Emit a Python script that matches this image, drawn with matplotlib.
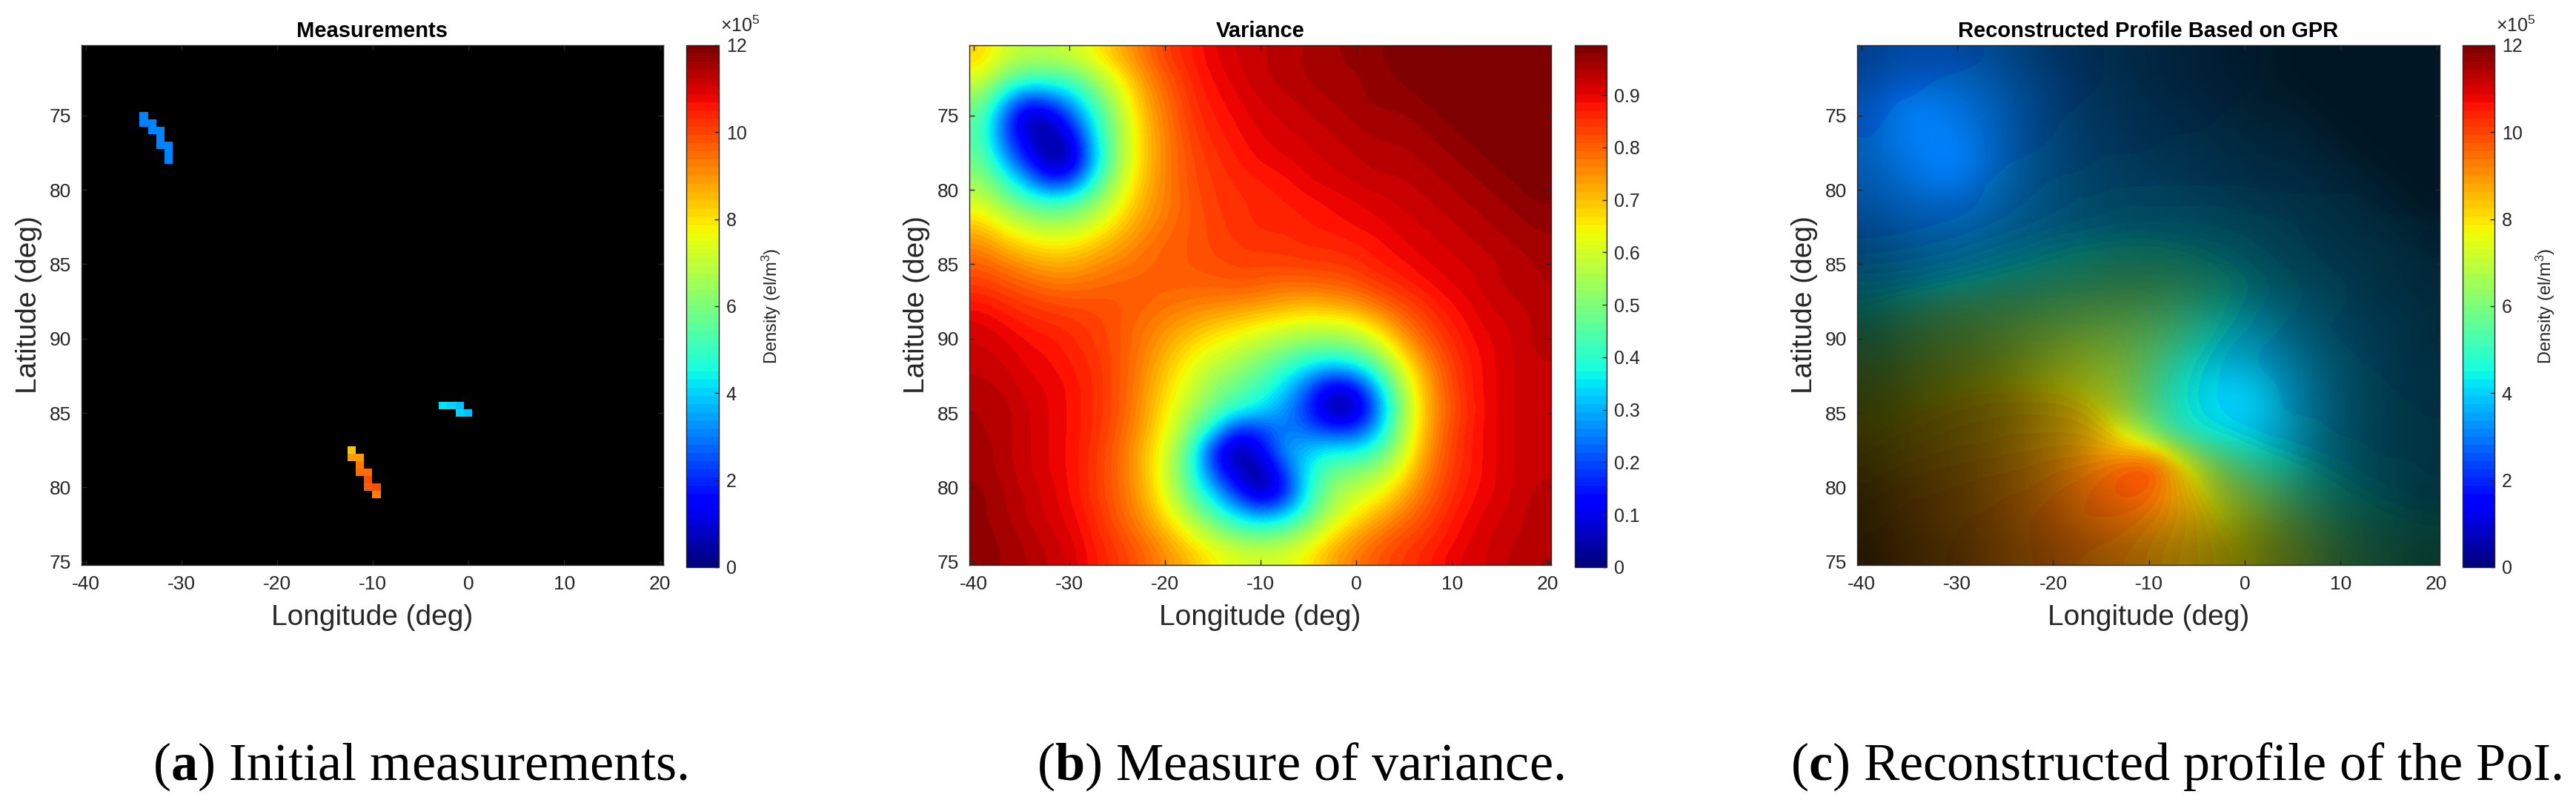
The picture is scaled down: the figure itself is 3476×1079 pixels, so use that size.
import numpy as np
import matplotlib
matplotlib.use('Agg')
import matplotlib.pyplot as plt
from matplotlib.cm import ScalarMappable
from matplotlib.colors import Normalize

plt.rcParams['font.family'] = ['Liberation Sans', 'DejaVu Sans']
plt.rcParams['axes.unicode_minus'] = False
plt.rcParams['mathtext.fontset'] = 'custom'
plt.rcParams['mathtext.rm'] = 'Liberation Sans'
plt.rcParams['mathtext.bf'] = 'Liberation Serif:bold'
plt.rcParams['mathtext.default'] = 'regular'

W, H = 3476, 1079

lon_ticks = [-40, -30, -20, -10, 0, 10, 20]
lat_pos = [75, 80, 85, 90, 95, 100, 105]
lat_labels = ['75', '80', '85', '90', '85', '80', '75']
density_ticks = [0, 2, 4, 6, 8, 10, 12]
variance_ticks = [0, 0.1, 0.2, 0.3, 0.4, 0.5, 0.6, 0.7, 0.8, 0.9]

# measured cells on the 70x70 grid
meas_row = [9, 10, 10, 11, 11, 12, 13, 13, 14, 15,
            48, 48, 48, 49, 49,
            54, 55, 55, 56, 57, 57, 58, 59, 59, 60]
meas_col = [7, 7, 8, 8, 9, 9, 9, 10, 10, 10,
            43, 44, 45, 45, 46,
            32, 32, 33, 33, 33, 34, 34, 34, 35, 35]
meas_val = [3.15, 3.15, 3.1, 3.1, 3.15, 3.15, 3.15, 3.15, 3.15, 3.15,
            4.14, 4.0, 3.75, 3.97, 3.85,
            8.4, 8.85, 8.85, 9.2, 9.55, 9.55, 9.75, 9.6, 9.75, 9.2]

# variance, in percent
variance_pct = [
    [68, 60, 57, 57, 60, 65, 72, 78, 84, 87, 90, 92, 93, 94, 95, 96, 97, 97, 100, 100, 100, 100, 100, 100, 100],
    [62, 50, 45, 44, 47, 56, 65, 75, 81, 86, 89, 91, 93, 94, 95, 96, 96, 97, 98, 100, 100, 100, 100, 100, 100],
    [52, 34, 20, 25, 33, 47, 60, 72, 79, 85, 88, 90, 92, 93, 94, 95, 96, 97, 97, 98, 100, 100, 100, 100, 100],
    [46, 22, 3, 6, 22, 40, 56, 70, 78, 84, 87, 89, 91, 92, 93, 94, 95, 96, 96, 97, 98, 100, 100, 100, 100],
    [45, 22, 8, 2, 10, 37, 55, 69, 77, 83, 86, 88, 90, 91, 92, 93, 94, 95, 95, 96, 97, 98, 100, 100, 100],
    [48, 30, 14, 2, 6, 34, 55, 69, 77, 82, 85, 87, 89, 90, 91, 92, 93, 94, 94, 95, 96, 97, 98, 100, 100],
    [53, 42, 28, 14, 20, 42, 58, 70, 77, 82, 84, 86, 87, 88, 90, 91, 92, 93, 93, 94, 95, 96, 97, 98, 100],
    [60, 51, 44, 40, 43, 52, 63, 72, 77, 81, 84, 85, 86, 87, 88, 89, 90, 91, 92, 93, 94, 95, 96, 97, 98],
    [68, 61, 56, 54, 55, 60, 68, 74, 78, 81, 83, 85, 86, 86, 87, 88, 89, 90, 91, 92, 93, 94, 95, 96, 97],
    [75, 70, 66, 64, 65, 69, 73, 77, 80, 81, 83, 84, 85, 85, 86, 86, 87, 88, 90, 91, 92, 93, 94, 95, 96],
    [80, 77, 74, 72, 72, 75, 77, 79, 80, 81, 82, 83, 83, 83, 84, 84, 85, 87, 88, 90, 91, 92, 93, 94, 95],
    [84, 82, 80, 78, 78, 79, 80, 80, 80, 80, 80, 81, 80, 79, 79, 80, 81, 84, 86, 88, 90, 91, 93, 94, 95],
    [88, 86, 84, 83, 82, 82, 81, 80, 78, 77, 76, 75, 74, 72, 71, 72, 74, 78, 82, 85, 88, 90, 92, 93, 94],
    [91, 89, 87, 86, 85, 83, 81, 78, 75, 72, 69, 67, 64, 62, 60, 60, 62, 68, 76, 82, 86, 89, 91, 92, 94],
    [92, 91, 89, 88, 86, 84, 81, 77, 72, 67, 63, 60, 56, 52, 49, 48, 50, 57, 69, 78, 84, 88, 90, 92, 94],
    [93, 92, 90, 89, 87, 85, 81, 76, 69, 63, 57, 53, 48, 42, 35, 30, 33, 44, 60, 73, 82, 87, 90, 92, 93],
    [94, 93, 91, 90, 88, 85, 81, 75, 67, 60, 52, 47, 42, 34, 22, 8, 10, 30, 53, 70, 81, 87, 90, 92, 93],
    [95, 94, 92, 90, 88, 85, 81, 74, 65, 56, 47, 40, 35, 28, 17, 3, 2, 22, 50, 69, 80, 86, 90, 92, 93],
    [95, 94, 92, 90, 88, 85, 80, 73, 63, 50, 35, 15, 18, 25, 23, 17, 17, 30, 52, 70, 81, 87, 90, 92, 93],
    [96, 94, 92, 90, 88, 84, 79, 71, 60, 44, 14, 2, 10, 28, 32, 37, 36, 42, 56, 72, 82, 87, 90, 92, 93],
    [96, 94, 92, 90, 88, 84, 79, 71, 59, 42, 20, 6, 2, 17, 36, 47, 50, 54, 63, 75, 83, 87, 90, 92, 93],
    [97, 95, 93, 91, 88, 84, 79, 72, 61, 46, 32, 16, 3, 12, 37, 52, 58, 62, 70, 78, 84, 88, 90, 92, 94],
    [97, 95, 93, 91, 89, 85, 80, 74, 65, 54, 43, 33, 25, 30, 43, 56, 64, 70, 76, 81, 86, 89, 91, 93, 94],
    [97, 96, 94, 92, 90, 86, 82, 77, 71, 63, 55, 49, 47, 49, 56, 65, 72, 77, 81, 84, 87, 90, 92, 93, 94],
    [98, 96, 95, 93, 91, 87, 84, 80, 75, 70, 65, 61, 60, 61, 65, 72, 77, 81, 84, 86, 89, 91, 92, 94, 95],
]

density_mean = [
    [2.9, 2.9, 2.9, 2.9, 3.0, 3.0, 3.0, 3.0, 3.1, 3.1, 3.2, 3.2, 3.2, 3.2, 3.3, 3.3, 3.3, 3.4, 3.4, 3.4, 3.4, 3.5, 3.5, 3.5, 3.5],
    [2.9, 2.9, 2.9, 3.0, 3.0, 3.0, 3.0, 3.1, 3.1, 3.1, 3.2, 3.2, 3.2, 3.3, 3.3, 3.3, 3.3, 3.4, 3.4, 3.4, 3.4, 3.5, 3.5, 3.5, 3.5],
    [2.9, 3.0, 3.0, 3.1, 3.1, 3.0, 3.0, 3.1, 3.1, 3.2, 3.2, 3.2, 3.3, 3.3, 3.3, 3.3, 3.4, 3.4, 3.4, 3.4, 3.4, 3.5, 3.5, 3.5, 3.5],
    [3.0, 3.0, 3.1, 3.1, 3.1, 3.1, 3.1, 3.1, 3.2, 3.2, 3.2, 3.3, 3.3, 3.3, 3.3, 3.4, 3.4, 3.4, 3.4, 3.4, 3.4, 3.5, 3.5, 3.5, 3.5],
    [3.0, 3.0, 3.1, 3.1, 3.1, 3.1, 3.1, 3.1, 3.2, 3.2, 3.3, 3.3, 3.3, 3.4, 3.4, 3.4, 3.4, 3.4, 3.4, 3.4, 3.5, 3.5, 3.5, 3.5, 3.5],
    [3.0, 3.0, 3.1, 3.1, 3.1, 3.1, 3.2, 3.2, 3.3, 3.3, 3.4, 3.4, 3.4, 3.5, 3.5, 3.5, 3.5, 3.5, 3.5, 3.5, 3.5, 3.5, 3.5, 3.5, 3.5],
    [3.0, 3.0, 3.1, 3.1, 3.1, 3.2, 3.2, 3.3, 3.4, 3.4, 3.5, 3.5, 3.5, 3.5, 3.5, 3.5, 3.5, 3.5, 3.5, 3.5, 3.5, 3.5, 3.5, 3.5, 3.5],
    [3.0, 3.0, 3.05, 3.1, 3.1, 3.2, 3.3, 3.4, 3.5, 3.6, 3.6, 3.7, 3.7, 3.7, 3.7, 3.7, 3.7, 3.6, 3.6, 3.6, 3.6, 3.6, 3.5, 3.5, 3.5],
    [3.05, 3.05, 3.1, 3.15, 3.2, 3.3, 3.4, 3.5, 3.6, 3.7, 3.8, 3.9, 3.9, 3.9, 3.9, 3.9, 3.8, 3.8, 3.8, 3.7, 3.7, 3.7, 3.6, 3.6, 3.6],
    [3.2, 3.25, 3.3, 3.35, 3.45, 3.6, 3.7, 3.9, 4.1, 4.2, 4.3, 4.4, 4.4, 4.3, 4.2, 4.1, 4.0, 3.9, 3.8, 3.7, 3.7, 3.6, 3.6, 3.6, 3.5],
    [3.5, 3.55, 3.6, 3.7, 3.8, 4.0, 4.2, 4.4, 4.6, 4.8, 4.9, 5.0, 5.0, 4.9, 4.7, 4.4, 4.2, 4.0, 3.9, 3.8, 3.7, 3.7, 3.6, 3.6, 3.6],
    [4.0, 4.0, 4.1, 4.3, 4.5, 4.7, 4.9, 5.0, 5.2, 5.3, 5.5, 5.6, 5.5, 5.4, 5.1, 4.8, 4.4, 4.2, 4.0, 3.9, 3.8, 3.7, 3.7, 3.6, 3.6],
    [4.4, 4.7, 5.0, 5.3, 5.5, 5.6, 5.7, 5.8, 5.9, 6.0, 6.0, 6.0, 5.8, 5.5, 5.0, 4.6, 4.3, 4.1, 4.0, 3.9, 3.8, 3.7, 3.7, 3.6, 3.6],
    [5.0, 5.3, 5.7, 6.0, 6.1, 6.2, 6.3, 6.4, 6.4, 6.4, 6.4, 6.2, 5.9, 5.6, 5.0, 4.5, 4.2, 4.0, 3.9, 3.8, 3.7, 3.7, 3.7, 3.6, 3.6],
    [5.6, 5.9, 6.3, 6.5, 6.6, 6.7, 6.8, 6.9, 6.9, 6.9, 6.7, 6.4, 5.9, 5.3, 4.7, 4.2, 4.0, 3.9, 3.9, 3.8, 3.8, 3.7, 3.7, 3.7, 3.6],
    [6.3, 6.5, 6.8, 7.0, 7.1, 7.2, 7.3, 7.3, 7.3, 7.2, 7.0, 6.5, 5.8, 5.0, 4.4, 4.1, 4.0, 3.9, 3.9, 3.8, 3.8, 3.8, 3.7, 3.7, 3.7],
    [6.9, 7.1, 7.3, 7.5, 7.7, 7.8, 7.8, 7.8, 7.8, 7.6, 7.2, 6.6, 5.7, 4.8, 4.3, 4.1, 4.0, 4.0, 3.9, 3.9, 3.8, 3.8, 3.8, 3.7, 3.7],
    [7.4, 7.6, 7.8, 8.0, 8.1, 8.2, 8.2, 8.2, 8.2, 8.1, 7.7, 6.8, 5.8, 4.9, 4.3, 4.1, 4.0, 4.0, 3.9, 3.9, 3.9, 3.8, 3.8, 3.8, 3.7],
    [7.8, 8.0, 8.1, 8.2, 8.3, 8.3, 8.4, 8.4, 8.4, 8.4, 8.2, 7.4, 6.2, 5.2, 4.6, 4.3, 4.1, 4.0, 4.0, 4.0, 3.9, 3.9, 3.8, 3.8, 3.8],
    [8.0, 8.2, 8.3, 8.4, 8.5, 8.5, 8.6, 8.6, 8.7, 8.7, 8.7, 8.6, 8.4, 7.4, 6.0, 5.3, 4.8, 4.4, 4.2, 4.1, 4.0, 4.0, 3.9, 3.9, 3.9],
    [8.3, 8.5, 8.6, 8.7, 8.7, 8.8, 8.8, 8.9, 9.0, 9.1, 9.3, 9.7, 10.0, 8.8, 7.6, 6.5, 5.7, 5.2, 4.8, 4.5, 4.3, 4.1, 4.0, 4.0, 3.9],
    [8.5, 8.7, 8.8, 8.8, 8.9, 8.9, 9.0, 9.0, 9.2, 9.3, 9.5, 9.7, 9.6, 8.8, 8.0, 7.2, 6.6, 6.0, 5.4, 5.0, 4.6, 4.4, 4.2, 4.1, 4.0],
    [8.7, 8.8, 8.9, 8.9, 9.0, 9.0, 9.1, 9.2, 9.3, 9.4, 9.4, 9.4, 9.2, 8.8, 8.3, 7.7, 7.2, 6.7, 6.1, 5.6, 5.1, 4.8, 4.5, 4.4, 4.3],
    [8.8, 8.9, 8.9, 9.0, 9.0, 9.1, 9.1, 9.2, 9.3, 9.3, 9.3, 9.2, 8.9, 8.6, 8.3, 7.9, 7.6, 7.1, 6.6, 6.1, 5.6, 5.2, 4.9, 4.7, 4.6],
    [8.9, 8.9, 9.0, 9.0, 9.0, 9.1, 9.1, 9.2, 9.2, 9.2, 9.1, 9.0, 8.8, 8.5, 8.3, 8.0, 7.8, 7.4, 7.0, 6.5, 6.0, 5.5, 5.2, 5.0, 4.8],
]

captions = ['a', 'b', 'c']
caption_text = [' Initial measurements.', ' Measure of variance.', ' Reconstructed profile of the PoI.']
caption_x = [206, 1399, 2416]

extent = [-40.46, 20.34, 105.22, 70.27]
jet = plt.get_cmap('jet', 64).copy()
jet.set_bad('black')
dark = '#262626'


def axes_px(fig, x0, x1, y0, y1):
    return fig.add_axes([x0 / W, 1 - y1 / H, (x1 - x0) / W, (y1 - y0) / H])


def dress(ax, title):
    ax.set_xlim(extent[0], extent[1])
    ax.set_ylim(extent[2], extent[3])
    ax.set_xticks(lon_ticks)
    ax.set_xticklabels([str(v) for v in lon_ticks])
    ax.set_yticks(lat_pos)
    ax.set_yticklabels(lat_labels)
    ax.tick_params(direction='in', length=5, width=1, top=True, right=True,
                   labelsize=19, color=dark, labelcolor=dark, pad=10)
    ax.set_xlabel('Longitude (deg)', fontsize=28, color=dark, labelpad=11)
    ax.set_ylabel('Latitude (deg)', fontsize=28, color=dark, labelpad=7)
    ax.set_title(title, fontsize=21, fontweight='bold', pad=8)
    for s in ax.spines.values():
        s.set_color(dark)
        s.set_linewidth(1)


def add_cbar(fig, x0, x1, y0, y1, norm, ticks, labels, density):
    cax = axes_px(fig, x0, x1, y0, y1)
    cb = fig.colorbar(ScalarMappable(norm=norm, cmap=jet), cax=cax, ticks=ticks)
    cb.ax.set_yticklabels(labels)
    cb.ax.tick_params(direction='in', length=4, width=1, labelsize=18,
                      color=dark, labelcolor=dark, pad=7)
    cb.outline.set_edgecolor(dark)
    cb.outline.set_linewidth(1)
    if density:
        cb.ax.text(2.6, 0.5, 'Density (el/m$^{3}$)', transform=cb.ax.transAxes, rotation=90,
                   fontsize=17, color=dark, ha='center', va='center')
        cb.ax.text(1.05, 1.018, '×10$^{5}$', transform=cb.ax.transAxes,
                   fontsize=18, color=dark, ha='left', va='bottom')


fig = plt.figure(figsize=(W / 100, H / 100), dpi=100)
density_norm = Normalize(0, 12)
variance_norm = Normalize(0, 0.995)
density_labels = [str(v) for v in density_ticks]
variance_labels = ['0'] + [f'{v:.1f}' for v in variance_ticks[1:]]

# panel a
meas_grid = np.full((70, 70), np.nan)
meas_grid[meas_row, meas_col] = meas_val
ax = axes_px(fig, 110, 895, 61, 762)
ax.imshow(meas_grid, cmap=jet, norm=density_norm, extent=extent, aspect='auto', interpolation='nearest')
dress(ax, 'Measurements')
add_cbar(fig, 926, 970, 61, 765, density_norm, density_ticks, density_labels, True)

# panel b
variance = np.array(variance_pct) / 100
ax = axes_px(fig, 1308, 2093, 61, 762)
ax.imshow(variance, cmap=jet, norm=variance_norm, extent=extent, aspect='auto',
          interpolation='bicubic', interpolation_stage='data')
dress(ax, 'Variance')
add_cbar(fig, 2125, 2168, 61, 765, variance_norm, variance_ticks, variance_labels, False)

# panel c, mean with opacity following the variance
opacity = np.sqrt(np.clip(1 - variance, 0.02, 1))
ax = axes_px(fig, 2506, 3292, 61, 762)
ax.set_facecolor('black')
ax.imshow(np.array(density_mean), cmap=jet, norm=density_norm, alpha=opacity, extent=extent, aspect='auto',
          interpolation='bicubic', interpolation_stage='data')
dress(ax, 'Reconstructed Profile Based on GPR')
add_cbar(fig, 3323, 3366, 61, 765, density_norm, density_ticks, density_labels, True)

for c, t, x in zip(captions, caption_text, caption_x):
    fig.text(x / W, 1 - 1052 / H, '($\\mathbf{' + c + '}$)' + t, fontsize=52,
             family='Liberation Serif', color='black', ha='left', va='baseline')

fig.savefig('out.png', dpi=100)
